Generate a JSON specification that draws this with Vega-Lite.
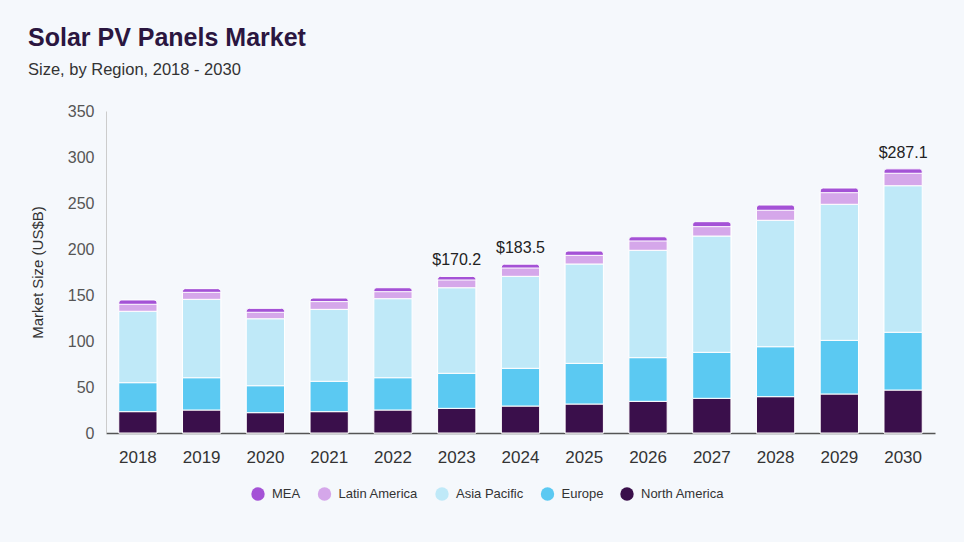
{
  "$schema": "https://vega.github.io/schema/vega-lite/v6.json",
  "autosize": {"type": "none"},
  "width": 829,
  "height": 322,
  "padding": {"left": 106, "top": 111, "right": 29, "bottom": 109},
  "background": "#f5f8fc",
  "title": {
    "text": "Solar PV Panels Market",
    "subtitle": "Size, by Region, 2018 - 2030",
    "anchor": "start",
    "frame": "group",
    "dx": -78,
    "offset": 25,
    "font": "Liberation Sans",
    "fontSize": 25,
    "fontWeight": "bold",
    "color": "#2b1640",
    "subtitleFont": "Liberation Sans",
    "subtitleFontSize": 16.5,
    "subtitleColor": "#333333",
    "subtitlePadding": 11
  },
  "datasets": {
    "main": [
      {"year": "2018", "region": "North America", "value": 23.2},
      {"year": "2018", "region": "Europe", "value": 31.5},
      {"year": "2018", "region": "Asia Pacific", "value": 77.6},
      {"year": "2018", "region": "Latin America", "value": 7.6},
      {"year": "2018", "region": "MEA", "value": 4.7},
      {"year": "2019", "region": "North America", "value": 25.0},
      {"year": "2019", "region": "Europe", "value": 35.1},
      {"year": "2019", "region": "Asia Pacific", "value": 85.2},
      {"year": "2019", "region": "Latin America", "value": 7.6},
      {"year": "2019", "region": "MEA", "value": 4.0},
      {"year": "2020", "region": "North America", "value": 22.1},
      {"year": "2020", "region": "Europe", "value": 29.3},
      {"year": "2020", "region": "Asia Pacific", "value": 72.8},
      {"year": "2020", "region": "Latin America", "value": 7.0},
      {"year": "2020", "region": "MEA", "value": 4.3},
      {"year": "2021", "region": "North America", "value": 23.2},
      {"year": "2021", "region": "Europe", "value": 33.0},
      {"year": "2021", "region": "Asia Pacific", "value": 78.2},
      {"year": "2021", "region": "Latin America", "value": 8.4},
      {"year": "2021", "region": "MEA", "value": 3.9},
      {"year": "2022", "region": "North America", "value": 25.0},
      {"year": "2022", "region": "Europe", "value": 35.1},
      {"year": "2022", "region": "Asia Pacific", "value": 85.9},
      {"year": "2022", "region": "Latin America", "value": 7.6},
      {"year": "2022", "region": "MEA", "value": 4.3},
      {"year": "2023", "region": "North America", "value": 26.8},
      {"year": "2023", "region": "Europe", "value": 38.1},
      {"year": "2023", "region": "Asia Pacific", "value": 93.0},
      {"year": "2023", "region": "Latin America", "value": 8.4},
      {"year": "2023", "region": "MEA", "value": 3.9},
      {"year": "2024", "region": "North America", "value": 29.3},
      {"year": "2024", "region": "Europe", "value": 41.0},
      {"year": "2024", "region": "Asia Pacific", "value": 100.0},
      {"year": "2024", "region": "Latin America", "value": 9.0},
      {"year": "2024", "region": "MEA", "value": 4.2},
      {"year": "2025", "region": "North America", "value": 31.5},
      {"year": "2025", "region": "Europe", "value": 44.2},
      {"year": "2025", "region": "Asia Pacific", "value": 108.0},
      {"year": "2025", "region": "Latin America", "value": 9.4},
      {"year": "2025", "region": "MEA", "value": 4.7},
      {"year": "2026", "region": "North America", "value": 34.4},
      {"year": "2026", "region": "Europe", "value": 47.5},
      {"year": "2026", "region": "Asia Pacific", "value": 116.7},
      {"year": "2026", "region": "Latin America", "value": 10.1},
      {"year": "2026", "region": "MEA", "value": 4.6},
      {"year": "2027", "region": "North America", "value": 37.7},
      {"year": "2027", "region": "Europe", "value": 50.0},
      {"year": "2027", "region": "Asia Pacific", "value": 126.4},
      {"year": "2027", "region": "Latin America", "value": 10.2},
      {"year": "2027", "region": "MEA", "value": 5.4},
      {"year": "2028", "region": "North America", "value": 39.5},
      {"year": "2028", "region": "Europe", "value": 54.3},
      {"year": "2028", "region": "Asia Pacific", "value": 137.4},
      {"year": "2028", "region": "Latin America", "value": 10.9},
      {"year": "2028", "region": "MEA", "value": 5.7},
      {"year": "2029", "region": "North America", "value": 42.4},
      {"year": "2029", "region": "Europe", "value": 58.3},
      {"year": "2029", "region": "Asia Pacific", "value": 147.9},
      {"year": "2029", "region": "Latin America", "value": 12.6},
      {"year": "2029", "region": "MEA", "value": 5.1},
      {"year": "2030", "region": "North America", "value": 46.7},
      {"year": "2030", "region": "Europe", "value": 62.8},
      {"year": "2030", "region": "Asia Pacific", "value": 159.3},
      {"year": "2030", "region": "Latin America", "value": 13.5},
      {"year": "2030", "region": "MEA", "value": 4.8}
    ],
    "regions": [
      {"region": "North America", "rank": 1},
      {"region": "Europe", "rank": 2},
      {"region": "Asia Pacific", "rank": 3},
      {"region": "Latin America", "rank": 4},
      {"region": "MEA", "rank": 5}
    ],
    "labels": [
      {"year": "2023", "total": 170.2, "label": "$170.2"},
      {"year": "2024", "total": 183.5, "label": "$183.5"},
      {"year": "2030", "total": 287.1, "label": "$287.1"}
    ]
  },
  "encoding": {
    "x": {
      "field": "year",
      "type": "nominal",
      "scale": {"paddingInner": 0.4, "paddingOuter": 0.2},
      "axis": {
        "title": null,
        "labelAngle": 0,
        "ticks": false,
        "labelPadding": 16,
        "labelFontSize": 17,
        "labelFont": "Liberation Sans",
        "labelColor": "#333333",
        "domainColor": "#555555",
        "domainWidth": 1.5
      }
    }
  },
  "layer": [
    {
      "data": {"name": "main"},
      "mark": {"type": "bar", "cornerRadiusTopLeft": 3, "cornerRadiusTopRight": 3, "stroke": "#ffffff", "strokeWidth": 1},
      "encoding": {
        "y": {
          "aggregate": "sum",
          "field": "value",
          "type": "quantitative",
          "scale": {"domain": [0, 350]},
          "axis": {
            "title": "Market Size (US$B)",
            "titleFont": "Liberation Sans",
            "titleFontSize": 15,
            "titleFontWeight": "normal",
            "titleColor": "#333333",
            "titlePadding": 22,
            "values": [0, 50, 100, 150, 200, 250, 300, 350],
            "grid": false,
            "ticks": false,
            "labelPadding": 12,
            "labelFontSize": 16,
            "labelFont": "Liberation Sans",
            "labelColor": "#555555",
            "domainColor": "#cccccc"
          }
        },
        "color": {"datum": "MEA", "type": "nominal"}
      }
    },
    {
      "data": {"name": "main"},
      "transform": [
        {"filter": "datum.region !== 'MEA'"},
        {"lookup": "region", "from": {"data": {"name": "regions"}, "key": "region", "fields": ["rank"]}}
      ],
      "mark": {"type": "bar", "stroke": "#ffffff", "strokeWidth": 1},
      "encoding": {
        "y": {"field": "value", "type": "quantitative", "stack": "zero"},
        "order": {"field": "rank", "type": "quantitative", "sort": "ascending"},
        "color": {
          "field": "region",
          "type": "nominal",
          "sort": ["MEA", "Latin America", "Asia Pacific", "Europe", "North America"],
          "scale": {
            "domain": ["MEA", "Latin America", "Asia Pacific", "Europe", "North America"],
            "range": ["#a452d6", "#d5a7ea", "#bfe9f8", "#5bc9f2", "#3a0f4b"]
          },
          "legend": {
            "title": null,
            "orient": "none",
            "direction": "horizontal",
            "legendX": 145,
            "legendY": 376,
            "symbolType": "circle",
            "symbolSize": 180,
            "symbolStrokeWidth": 0,
            "labelFont": "Liberation Sans",
            "labelFontSize": 13,
            "labelColor": "#333333",
            "columnPadding": 16.5,
            "labelOffset": 7
          }
        }
      }
    },
    {
      "data": {"name": "labels"},
      "mark": {"type": "text", "dy": -16, "font": "Liberation Sans", "fontSize": 16, "color": "#222222"},
      "encoding": {
        "y": {"field": "total", "type": "quantitative"},
        "text": {"field": "label"}
      }
    }
  ],
  "config": {
    "view": {"stroke": null}
  }
}
